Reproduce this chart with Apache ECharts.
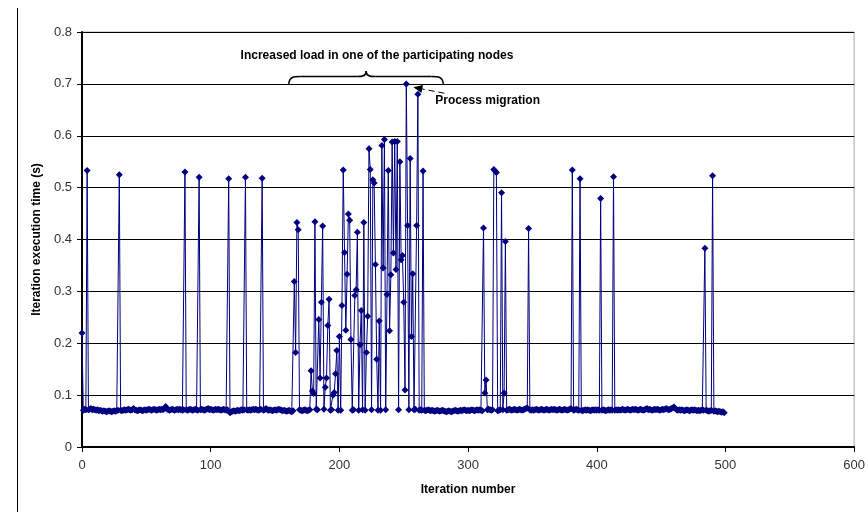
<!DOCTYPE html>
<html><head><meta charset="utf-8">
<script src="https://cdn.jsdelivr.net/npm/echarts@6/dist/echarts.min.js"></script>
<style>html,body{margin:0;padding:0;background:#fff}#c{width:868px;height:512px}</style>
</head><body><div id="c"></div>
<script>
// Baseline iteration times (s), iterations 0..499
const baseline = [
0.072,0.071,0.073,0.072,0.071,0.072,0.073,0.074,0.072,0.073,0.072,0.071,0.072,0.070,0.071,0.070,0.069,0.070,0.069,0.068,0.069,0.070,0.069,0.068,0.069,
0.070,0.069,0.070,0.071,0.070,0.071,0.070,0.071,0.072,0.071,0.072,0.073,0.072,0.071,0.072,0.074,0.072,0.071,0.070,0.071,0.072,0.071,0.070,0.071,0.072,
0.071,0.072,0.073,0.072,0.071,0.072,0.073,0.072,0.071,0.072,0.073,0.072,0.073,0.072,0.074,0.078,0.073,0.072,0.071,0.072,0.073,0.072,0.071,0.072,0.073,
0.072,0.073,0.072,0.071,0.072,0.073,0.072,0.071,0.072,0.073,0.072,0.071,0.072,0.073,0.072,0.071,0.073,0.072,0.073,0.072,0.071,0.072,0.073,0.074,0.072,
0.073,0.072,0.071,0.072,0.073,0.072,0.073,0.072,0.071,0.072,0.073,0.072,0.071,0.072,0.070,0.066,0.068,0.069,0.070,0.069,0.070,0.071,0.070,0.071,0.072,
0.071,0.072,0.073,0.072,0.071,0.072,0.071,0.072,0.073,0.072,0.073,0.072,0.071,0.072,0.073,0.072,0.071,0.072,0.074,0.072,0.071,0.072,0.071,0.070,0.071,
0.072,0.071,0.072,0.073,0.072,0.071,0.070,0.071,0.070,0.069,0.070,0.071,0.069,0.068,0.070,0.071,0.072,0.073,0.074,0.072,0.071,0.070,0.071,0.072,0.071,
0.070,0.071,0.072,0.073,0.072,0.071,0.072,0.073,0.072,0.071,0.070,0.071,0.072,0.073,0.072,0.071,0.070,0.072,0.071,0.072,0.073,0.071,0.072,0.073,0.071,
0.072,0.071,0.072,0.073,0.072,0.071,0.072,0.071,0.072,0.073,0.071,0.072,0.071,0.072,0.073,0.071,0.072,0.071,0.072,0.073,0.071,0.072,0.071,0.072,0.071,
0.072,0.071,0.072,0.073,0.072,0.071,0.072,0.071,0.072,0.073,0.071,0.072,0.071,0.072,0.073,0.071,0.072,0.071,0.072,0.073,0.071,0.072,0.071,0.072,0.071,
0.072,0.071,0.072,0.073,0.072,0.071,0.072,0.071,0.072,0.073,0.071,0.072,0.071,0.072,0.071,0.070,0.071,0.070,0.071,0.072,0.071,0.070,0.071,0.070,0.069,
0.070,0.071,0.070,0.069,0.070,0.071,0.070,0.069,0.068,0.069,0.070,0.069,0.068,0.069,0.070,0.071,0.070,0.069,0.070,0.071,0.070,0.071,0.072,0.071,0.070,
0.071,0.070,0.071,0.072,0.071,0.070,0.071,0.072,0.071,0.072,0.071,0.070,0.071,0.072,0.071,0.072,0.073,0.072,0.071,0.072,0.071,0.072,0.071,0.070,0.071,
0.072,0.073,0.072,0.071,0.072,0.071,0.072,0.073,0.072,0.071,0.072,0.073,0.072,0.071,0.072,0.073,0.072,0.071,0.072,0.073,0.074,0.075,0.073,0.072,0.071,
0.072,0.071,0.072,0.073,0.072,0.071,0.072,0.073,0.072,0.071,0.072,0.073,0.072,0.071,0.072,0.073,0.072,0.073,0.072,0.071,0.072,0.073,0.072,0.071,0.072,
0.073,0.072,0.071,0.072,0.073,0.074,0.072,0.071,0.072,0.073,0.072,0.071,0.072,0.071,0.070,0.071,0.072,0.071,0.072,0.071,0.070,0.071,0.072,0.071,0.072,
0.071,0.072,0.071,0.070,0.071,0.072,0.071,0.070,0.071,0.072,0.071,0.072,0.071,0.070,0.071,0.072,0.071,0.072,0.071,0.072,0.073,0.072,0.071,0.072,0.073,
0.072,0.071,0.072,0.073,0.072,0.073,0.072,0.071,0.072,0.073,0.072,0.071,0.072,0.073,0.074,0.072,0.073,0.072,0.071,0.072,0.073,0.072,0.073,0.072,0.071,
0.072,0.073,0.072,0.073,0.074,0.073,0.072,0.073,0.074,0.075,0.077,0.074,0.072,0.071,0.072,0.071,0.072,0.071,0.070,0.071,0.072,0.071,0.070,0.071,0.072,
0.071,0.072,0.071,0.070,0.071,0.070,0.071,0.072,0.071,0.070,0.071,0.070,0.069,0.070,0.071,0.070,0.069,0.070,0.069,0.068,0.069,0.068,0.067,0.068,0.066
];
// Slow iterations (spikes): iteration numbers and their execution times (s)
const spikeIterations = [
0,4,29,80,91,114,127,140,
165,166,167,168,
178,179,180,181,184,185,186,187,189,190,191,192,195,196,197,198,
200,202,203,204,205,206,207,208,209,212,213,214,216,217,219,221,222,223,224,
226,227,228,229,231,233,234,235,237,238,239,240,241,242,243,244,245,247,248,249,250,251,252,253,255,256,257,260,261,265,
312,313,314,320,321,322,326,328,329,
347,381,387,403,413,484,490
];
const spikeValues = [
0.220,0.533,0.525,0.530,0.520,0.517,0.520,0.518,
0.319,0.182,0.433,0.419,
0.147,0.108,0.103,0.434,0.246,0.133,0.279,0.426,0.115,0.133,0.234,0.285,0.100,0.105,0.141,0.186,
0.213,0.273,0.534,0.375,0.225,0.333,0.449,0.437,0.207,0.292,0.303,0.414,0.197,0.263,0.433,0.182,0.252,0.575,0.535,
0.515,0.509,0.352,0.169,0.243,0.581,0.345,0.593,0.294,0.533,0.224,0.332,0.588,0.374,0.589,0.342,0.589,0.550,0.361,0.369,0.279,0.110,0.700,0.427,0.556,0.213,0.334,0.427,0.680,0.532,
0.422,0.104,0.129,0.535,0.532,0.529,0.490,0.104,0.396,
0.421,0.534,0.517,0.479,0.521,0.383,0.523
];
const xTitle = 'Iteration number';
const yTitle = 'Iteration execution time (s)';
const loadNote = 'Increased load in one of the participating nodes';
const migrationNote = 'Process migration';

const values = baseline.slice();
spikeIterations.forEach((it, k) => { values[it] = spikeValues[k]; });
const seriesData = values.map((v, i) => [i, v]);

const FONT = '"Liberation Sans", Arial, Helvetica, sans-serif';
const chart = echarts.init(document.getElementById('c'), null, {renderer: 'canvas'});
const option = {
  animation: false,
  backgroundColor: '#fff',
  grid: {left: 82, right: 13, top: 32, bottom: 65, show: true, borderColor: '#a8a8a8', borderWidth: 1},
  xAxis: {
    type: 'value', min: 0, max: 600, interval: 100,
    name: xTitle, nameLocation: 'middle', nameGap: 37,
    nameTextStyle: {fontFamily: FONT, fontSize: 12, fontWeight: 'bold', color: '#000'},
    axisLine: {show: true, onZero: false, lineStyle: {color: '#000', width: 2}},
    axisTick: {show: true, length: 5, lineStyle: {color: '#000', width: 1}},
    axisLabel: {margin: 12, fontFamily: FONT, fontSize: 13, color: '#333'},
    splitLine: {show: false}
  },
  yAxis: {
    type: 'value', min: 0, max: 0.8, interval: 0.1,
    name: yTitle, nameLocation: 'middle', nameGap: 35, nameRotate: 90,
    nameTextStyle: {fontFamily: FONT, fontSize: 12, fontWeight: 'bold', color: '#000'},
    axisLine: {show: true, onZero: false, lineStyle: {color: '#000', width: 2}},
    axisTick: {show: true, length: 5, lineStyle: {color: '#000', width: 1}},
    axisLabel: {margin: 10, fontFamily: FONT, fontSize: 13, color: '#333'},
    splitLine: {show: true, lineStyle: {color: '#000', width: 1}}
  },
  series: [{
    type: 'line', data: seriesData, symbol: 'diamond', symbolSize: 7, showSymbol: true,
    lineStyle: {color: '#000080', width: 1}, itemStyle: {color: '#000080'},
    silent: true, emphasis: {disabled: true}
  }]
};
chart.setOption(option);

// Annotation anchors (data coordinates)
const P = (x, y) => chart.convertToPixel({gridIndex: 0}, [x, y]);
const bl = P(160.6, 0.700), br = P(280.8, 0.700), bt = P(220.8, 0.725), bbar = P(0, 0.714);
const yb = bbar[1], x0 = bl[0], x1 = br[0], tx = bt[0], yt = bt[1], ye = bl[1];
const braceStyle = {fill: null, stroke: '#000', lineWidth: 1.5};
const tip = P(257.5, 0.6935), tail = P(281.5, 0.682);
const dx = tip[0] - tail[0], dy = tip[1] - tail[1], L = Math.hypot(dx, dy);
const ux = dx / L, uy = dy / L, hl = 9, hw = 4;
const bx = tip[0] - ux * hl, by = tip[1] - uy * hl;
const loadPos = P(229.2, 0.754), migPos = P(274.5, 0.668);

chart.setOption({
  graphic: [
    {type: 'line', shape: {x1: 17.5, y1: 8, x2: 17.5, y2: 512}, style: {stroke: '#000', lineWidth: 1}, silent: true},
    {type: 'bezierCurve', shape: {x1: x0, y1: ye, cpx1: x0 + 1, cpy1: yb, cpx2: x0 + 5, cpy2: yb, x2: x0 + 12, y2: yb}, style: braceStyle, silent: true},
    {type: 'line', shape: {x1: x0 + 12, y1: yb, x2: tx - 9, y2: yb}, style: braceStyle, silent: true},
    {type: 'bezierCurve', shape: {x1: tx - 9, y1: yb, cpx1: tx - 3, cpy1: yb, cpx2: tx, cpy2: yb - 1, x2: tx, y2: yt}, style: braceStyle, silent: true},
    {type: 'bezierCurve', shape: {x1: tx, y1: yt, cpx1: tx, cpy1: yb - 1, cpx2: tx + 3, cpy2: yb, x2: tx + 9, y2: yb}, style: braceStyle, silent: true},
    {type: 'line', shape: {x1: tx + 9, y1: yb, x2: x1 - 12, y2: yb}, style: braceStyle, silent: true},
    {type: 'bezierCurve', shape: {x1: x1 - 12, y1: yb, cpx1: x1 - 5, cpy1: yb, cpx2: x1 - 1, cpy2: yb, x2: x1, y2: ye}, style: braceStyle, silent: true},
    {type: 'line', shape: {x1: tail[0], y1: tail[1], x2: bx, y2: by}, style: {stroke: '#000', lineWidth: 1, lineDash: [6, 4]}, silent: true},
    {type: 'polygon', shape: {points: [[tip[0], tip[1]], [bx - uy * hw, by + ux * hw], [bx + uy * hw, by - ux * hw]]}, style: {fill: '#000'}, silent: true},
    {type: 'text', x: loadPos[0], y: loadPos[1], style: {text: loadNote, font: 'bold 12px ' + FONT, fill: '#000', align: 'center', verticalAlign: 'middle'}, silent: true},
    {type: 'text', x: migPos[0], y: migPos[1], style: {text: migrationNote, font: 'bold 12px ' + FONT, fill: '#000', align: 'left', verticalAlign: 'middle'}, silent: true}
  ]
});
</script></body></html>
